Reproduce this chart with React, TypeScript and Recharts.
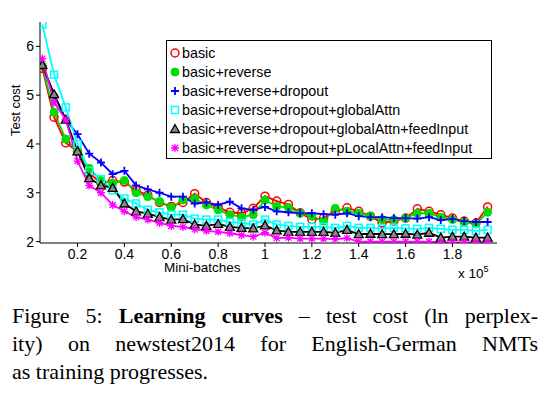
import React from 'react';
import { LineChart, Line, XAxis, YAxis } from 'recharts';

const xs = [0.05,0.1,0.15,0.2,0.25,0.3,0.35,0.4,0.45,0.5,0.55,0.6,0.65,0.7,0.75,0.8,0.85,0.9,0.95,1.0,1.05,1.1,1.15,1.2,1.25,1.3,1.35,1.4,1.45,1.5,1.55,1.6,1.65,1.7,1.75,1.8,1.85,1.9,1.95];
const basic = [5.55,4.55,4.02,3.85,3.4,3.2,3.25,3.22,3.05,2.95,2.8,2.72,2.8,2.98,2.8,2.7,2.6,2.58,2.68,2.93,2.83,2.76,2.59,2.45,2.48,2.62,2.69,2.62,2.52,2.38,2.42,2.48,2.67,2.62,2.55,2.48,2.42,2.38,2.71];
const reverse = [5.6,4.65,4.1,3.85,3.5,3.25,3.2,3.25,3.0,2.92,2.82,2.7,2.85,2.88,2.75,2.65,2.55,2.5,2.55,2.85,2.72,2.7,2.58,2.52,2.42,2.68,2.62,2.58,2.52,2.45,2.45,2.48,2.58,2.58,2.5,2.45,2.4,2.36,2.6];
const dropout = [5.6,5.0,4.5,4.2,3.8,3.62,3.38,3.45,3.15,3.07,3.0,2.92,2.92,2.78,2.8,2.75,2.82,2.68,2.65,2.71,2.62,2.6,2.58,2.58,2.56,2.55,2.58,2.52,2.5,2.5,2.48,2.48,2.47,2.5,2.44,2.46,2.42,2.4,2.4];
const globalAttn = [6.45,5.42,4.75,4.0,3.45,3.28,3.05,2.88,2.78,2.65,2.6,2.55,2.55,2.47,2.45,2.45,2.4,2.38,2.35,2.45,2.35,2.32,2.3,2.3,2.3,2.28,2.32,2.28,2.28,2.27,2.28,2.27,2.26,2.28,2.26,2.24,2.24,2.22,2.24];
const feedInput = [5.62,5.02,4.5,3.85,3.3,3.15,3.1,2.78,2.62,2.57,2.5,2.45,2.46,2.35,2.32,2.36,2.3,2.28,2.27,2.33,2.23,2.2,2.2,2.2,2.2,2.18,2.24,2.15,2.16,2.15,2.15,2.16,2.14,2.18,2.08,2.1,2.1,2.08,2.08];
const pLocal = [5.75,4.85,4.5,3.65,3.15,3.0,2.75,2.62,2.5,2.45,2.38,2.32,2.3,2.25,2.22,2.2,2.17,2.13,2.1,2.18,2.07,2.08,2.06,2.06,2.06,2.05,2.07,2.0,2.0,2.0,2.0,2.0,2.0,2.0,1.98,1.98,1.98,1.98,1.98];
const xTicks = [0.2,0.4,0.6,0.8,1.0,1.2,1.4,1.6,1.8];
const yTicks = [2,3,4,5,6];

const series = [
  { key: 'basic', name: 'basic', color: '#ff0000', values: basic, shape: 'circle' },
  { key: 'reverse', name: 'basic+reverse', color: '#00dd00', values: reverse, shape: 'dot' },
  { key: 'dropout', name: 'basic+reverse+dropout', color: '#0000ff', values: dropout, shape: 'plus' },
  { key: 'globalAttn', name: 'basic+reverse+dropout+globalAttn', color: '#00ffff', values: globalAttn, shape: 'square' },
  { key: 'feedInput', name: 'basic+reverse+dropout+globalAttn+feedInput', color: '#000000', values: feedInput, shape: 'triangle' },
  { key: 'pLocal', name: 'basic+reverse+dropout+pLocalAttn+feedInput', color: '#ff00ff', values: pLocal, shape: 'star' },
];

const data = xs.map((x, i) => {
  const row: any = { x };
  series.forEach(s => { row[s.key] = s.values[i]; });
  return row;
});

function Marker({ shape, color, cx, cy }: any) {
  const s = 4;
  switch (shape) {
    case 'circle': return <circle cx={cx} cy={cy} r={4} fill="none" stroke={color} strokeWidth={1.5} />;
    case 'dot': return <circle cx={cx} cy={cy} r={4} fill={color} stroke={color} />;
    case 'plus': return <path d={`M${cx - s},${cy}H${cx + s}M${cx},${cy - s}V${cy + s}`} stroke={color} strokeWidth={1.8} />;
    case 'square': return <rect x={cx - 3.5} y={cy - 3.5} width={7} height={7} fill="none" stroke={color} strokeWidth={1.5} />;
    case 'triangle': return <path d={`M${cx},${cy - 4.5}L${cx + 4.5},${cy + 3.5}L${cx - 4.5},${cy + 3.5}Z`} fill="#888" stroke={color} strokeWidth={1.3} />;
    case 'star': return <path d={`M${cx - s},${cy}H${cx + s}M${cx},${cy - s}V${cy + s}M${cx - 3},${cy - 3}L${cx + 3},${cy + 3}M${cx - 3},${cy + 3}L${cx + 3},${cy - 3}`} stroke={color} strokeWidth={1.3} />;
  }
  return null;
}

const tickStyle = { fontFamily: 'Liberation Sans, Arial, sans-serif', fontSize: 14, fill: '#000' };
const lineStyle: any = { display: 'flex', justifyContent: 'space-between', whiteSpace: 'nowrap' };

export default function App() {
  return (
    <div style={{ position: 'absolute', left: 0, top: 0, width: 550, height: 407, background: '#fff', fontFamily: 'Liberation Sans, Arial, sans-serif' }}>
      <LineChart width={550} height={290} data={data} margin={{ top: 22, right: 53, left: 10, bottom: 27 }}>
        <XAxis dataKey="x" type="number" domain={[0.04, 1.99]} ticks={xTicks} tick={tickStyle} tickFormatter={(v: number) => String(Number(v.toFixed(1)))} stroke="#000" tickSize={4} height={20} allowDataOverflow />
        <XAxis xAxisId="top" orientation="top" dataKey="x" type="number" domain={[0.04, 1.99]} tick={false} stroke="#000" height={0} />
        <YAxis type="number" domain={[1.97, 6.5]} ticks={yTicks} tick={tickStyle} stroke="#000" tickSize={4} width={30} allowDataOverflow />
        <YAxis yAxisId="right" orientation="right" type="number" domain={[1.97, 6.5]} tick={false} stroke="#000" width={0} />
        {series.map(s => (
          <Line key={s.key} dataKey={s.key} stroke={s.color} strokeWidth={1.8} isAnimationActive={false}
            dot={(p: any) => <Marker key={p.index} shape={s.shape} color={s.color} cx={p.cx} cy={p.cy} />} />
        ))}
      </LineChart>
      <div style={{ position: 'absolute', left: 8, top: 136, transform: 'rotate(-90deg)', transformOrigin: 'left top', fontSize: 13, width: 80 }}>
        <div style={{ position: 'absolute', left: 0, top: 0, whiteSpace: 'nowrap' }}>Test cost</div>
      </div>
      <div style={{ position: 'absolute', left: 164, top: 260, fontSize: 13.5 }}>Mini-batches</div>
      <div style={{ position: 'absolute', left: 458, top: 264, fontSize: 13.5 }}>x 10<sup style={{ fontSize: 9 }}>5</sup></div>
      <div style={{ position: 'absolute', left: 166, top: 40, width: 324, height: 117, border: '1px solid #000', background: '#fff', fontSize: 14.3 }}>
        {series.map((s, i) => (
          <div key={s.key} style={{ position: 'absolute', left: 0, top: 2 + i * 19, height: 19, display: 'flex', alignItems: 'center', whiteSpace: 'nowrap' }}>
            <svg width={14} height={14} style={{ marginLeft: 1 }}><Marker shape={s.shape} color={s.color} cx={7} cy={7} /></svg>
            <span>{s.name}</span>
          </div>
        ))}
      </div>
      <div style={{ position: 'absolute', left: 12, top: 302, width: 526, fontFamily: 'Liberation Serif, Times New Roman, serif', fontSize: 22, lineHeight: '28px' }}>
        <div style={lineStyle}><span>Figure</span><span>5:</span><b>Learning</b><b>curves</b><span>–</span><span>test</span><span>cost</span><span>(ln</span><span>perplex-</span></div>
        <div style={lineStyle}><span>ity)</span><span>on</span><span>newstest2014</span><span>for</span><span>English-German</span><span>NMTs</span></div>
        <div>as training progresses.</div>
      </div>
    </div>
  );
}
